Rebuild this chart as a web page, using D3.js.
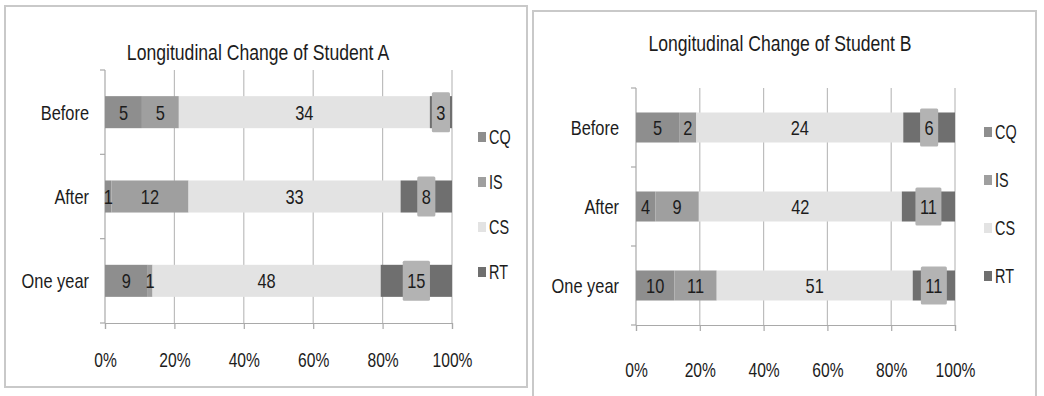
<!DOCTYPE html>
<html>
<head>
<meta charset="utf-8">
<script src="https://cdn.jsdelivr.net/npm/d3@7/dist/d3.min.js"></script>
<style>
  html, body { margin: 0; padding: 0; background: #ffffff; }
  svg { display: block; }
  text { font-family: "Liberation Sans", Arial, sans-serif; fill: #1c1c1c; }
</style>
</head>
<body>
<svg id="chart" width="1044" height="396"></svg>
<script>
// ---- data ----
const categories = ["Before", "After", "One year"];
const seriesNames = ["CQ", "IS", "CS", "RT"];
const xTickValues = [0, 0.2, 0.4, 0.6, 0.8, 1];

const titleA = "Longitudinal Change of Student A";
const aCQ = [5, 1, 9];
const aIS = [5, 12, 1];
const aCS = [34, 33, 48];
const aRT = [3, 8, 15];

const titleB = "Longitudinal Change of Student B";
const bCQ = [5, 4, 10];
const bIS = [2, 9, 11];
const bCS = [24, 42, 51];
const bRT = [6, 11, 11];

// ---- styles ----
const colors = { CQ: "#8e8e8e", IS: "#9f9f9f", CS: "#e3e3e3", RT: "#6f6f6f" };
const labelBoxColor = "#b3b3b3";

const svg = d3.select("#chart");

function condense(sel, f) {
  sel.each(function () {
    const w = this.getComputedTextLength();
    if (w > 0) {
      this.setAttribute("textLength", (w * f).toFixed(2));
      this.setAttribute("lengthAdjust", "spacingAndGlyphs");
    }
  });
}

function buildRows(cq, is, cs, rt) {
  return categories.map((c, i) => ({ cat: c, CQ: cq[i], IS: is[i], CS: cs[i], RT: rt[i] }));
}

function drawPanel(cfg) {
  const g = svg.append("g");
  g.append("rect")
    .attr("x", cfg.frame[0]).attr("y", cfg.frame[1])
    .attr("width", cfg.frame[2]).attr("height", cfg.frame[3])
    .attr("fill", "#fff").attr("stroke", "#c9c9c9").attr("stroke-width", 2);

  const rows = buildRows(...cfg.data);
  const stack = d3.stack().keys(seriesNames).offset(d3.stackOffsetExpand);
  const stacked = stack(rows);

  const x = d3.scaleLinear().domain([0, 1]).range([cfg.x0, cfg.x1]);
  const y = d3.scaleBand().domain(categories).range([cfg.yTop, cfg.yBot])
    .paddingInner(0.62).paddingOuter(0.31);
  const step = y.step();

  // title
  g.append("text").attr("x", cfg.titleX).attr("y", cfg.titleY)
    .attr("text-anchor", "middle").attr("font-size", 22).text(cfg.title)
    .call(condense, 0.8);

  // gridlines
  g.append("g").selectAll("line").data(xTickValues.slice(1)).join("line")
    .attr("x1", d => x(d)).attr("x2", d => x(d))
    .attr("y1", cfg.yTop).attr("y2", cfg.yBot)
    .attr("stroke", "#bdbdbd").attr("stroke-width", 1.2);

  // bottom axis
  const xAxis = d3.axisBottom(x).tickValues(xTickValues).tickFormat(d3.format(".0%"))
    .tickSize(6).tickPadding(cfg.xLabelPad);
  const xa = g.append("g").attr("transform", `translate(0,${cfg.yBot})`).call(xAxis);
  xa.select(".domain").attr("stroke", "#a9a9a9").attr("stroke-width", 1.2);
  xa.selectAll(".tick line").attr("stroke", "#a9a9a9").attr("stroke-width", 1.2);
  xa.selectAll(".tick text").attr("font-size", 20).attr("fill", "#1c1c1c")
    .attr("font-family", "'Liberation Sans', Arial, sans-serif")
    .call(condense, 0.78);

  // left axis
  g.append("line").attr("x1", cfg.x0).attr("x2", cfg.x0)
    .attr("y1", cfg.yTop).attr("y2", cfg.yBot)
    .attr("stroke", "#a9a9a9").attr("stroke-width", 1.2);
  const bounds = d3.range(categories.length + 1).map(i => cfg.yTop + i * step);
  g.append("g").selectAll("line").data(bounds).join("line")
    .attr("x1", cfg.x0 - 5).attr("x2", cfg.x0)
    .attr("y1", d => d).attr("y2", d => d)
    .attr("stroke", "#a9a9a9").attr("stroke-width", 1.2);
  g.append("g").selectAll("text").data(categories).join("text")
    .attr("x", cfg.catX).attr("y", d => y(d) + y.bandwidth() / 2)
    .attr("dy", "0.35em").attr("text-anchor", "end").attr("font-size", 21)
    .text(d => d)
    .call(condense, 0.78);

  // bars
  const layers = g.append("g").selectAll("g").data(stacked).join("g")
    .attr("fill", d => colors[d.key]);
  layers.selectAll("rect").data(d => d).join("rect")
    .attr("x", d => x(d[0])).attr("width", d => x(d[1]) - x(d[0]))
    .attr("y", d => y(d.data.cat)).attr("height", y.bandwidth());

  // labels
  const labelG = g.append("g");
  stacked.forEach(layer => {
    layer.forEach(d => {
      const cx = (x(d[0]) + x(d[1])) / 2;
      const cy = y(d.data.cat) + y.bandwidth() / 2;
      const val = d.data[layer.key];
      const t = labelG.append("text").attr("x", cx).attr("y", cy).attr("dy", "0.35em")
        .attr("text-anchor", "middle").attr("font-size", 21).text(val)
        .call(condense, 0.78);
      if (layer.key === "RT") {
        const w = t.node().getComputedTextLength() + 9;
        labelG.insert("rect", () => t.node())
          .attr("x", cx - w / 2).attr("y", cy - y.bandwidth() / 2 - 4)
          .attr("width", w).attr("height", y.bandwidth() + 8)
          .attr("fill", labelBoxColor).attr("rx", 1.5);
      }
    });
  });

  // legend
  const lg = g.append("g").selectAll("g").data(seriesNames).join("g")
    .attr("transform", (d, i) => `translate(${cfg.legendX},${cfg.legendY + i * cfg.legendStep})`);
  lg.append("rect").attr("x", 0).attr("y", -5).attr("width", 8).attr("height", 10)
    .attr("fill", d => colors[d]);
  lg.append("text").attr("x", 11).attr("y", 0).attr("dy", "0.35em")
    .attr("font-size", 20).text(d => d)
    .call(condense, 0.72);
}

drawPanel({
  frame: [5, 6, 522, 381],
  title: titleA, titleX: 258, titleY: 60,
  data: [aCQ, aIS, aCS, aRT],
  x0: 105, x1: 452, yTop: 70, yBot: 323, xLabelPad: 24, catX: 89,
  legendX: 478, legendY: 137, legendStep: 45
});

drawPanel({
  frame: [533, 11, 503, 390],
  title: titleB, titleX: 780, titleY: 51,
  data: [bCQ, bIS, bCS, bRT],
  x0: 636, x1: 955, yTop: 88, yBot: 325, xLabelPad: 32, catX: 619,
  legendX: 984, legendY: 132, legendStep: 48
});
</script>
</body>
</html>
